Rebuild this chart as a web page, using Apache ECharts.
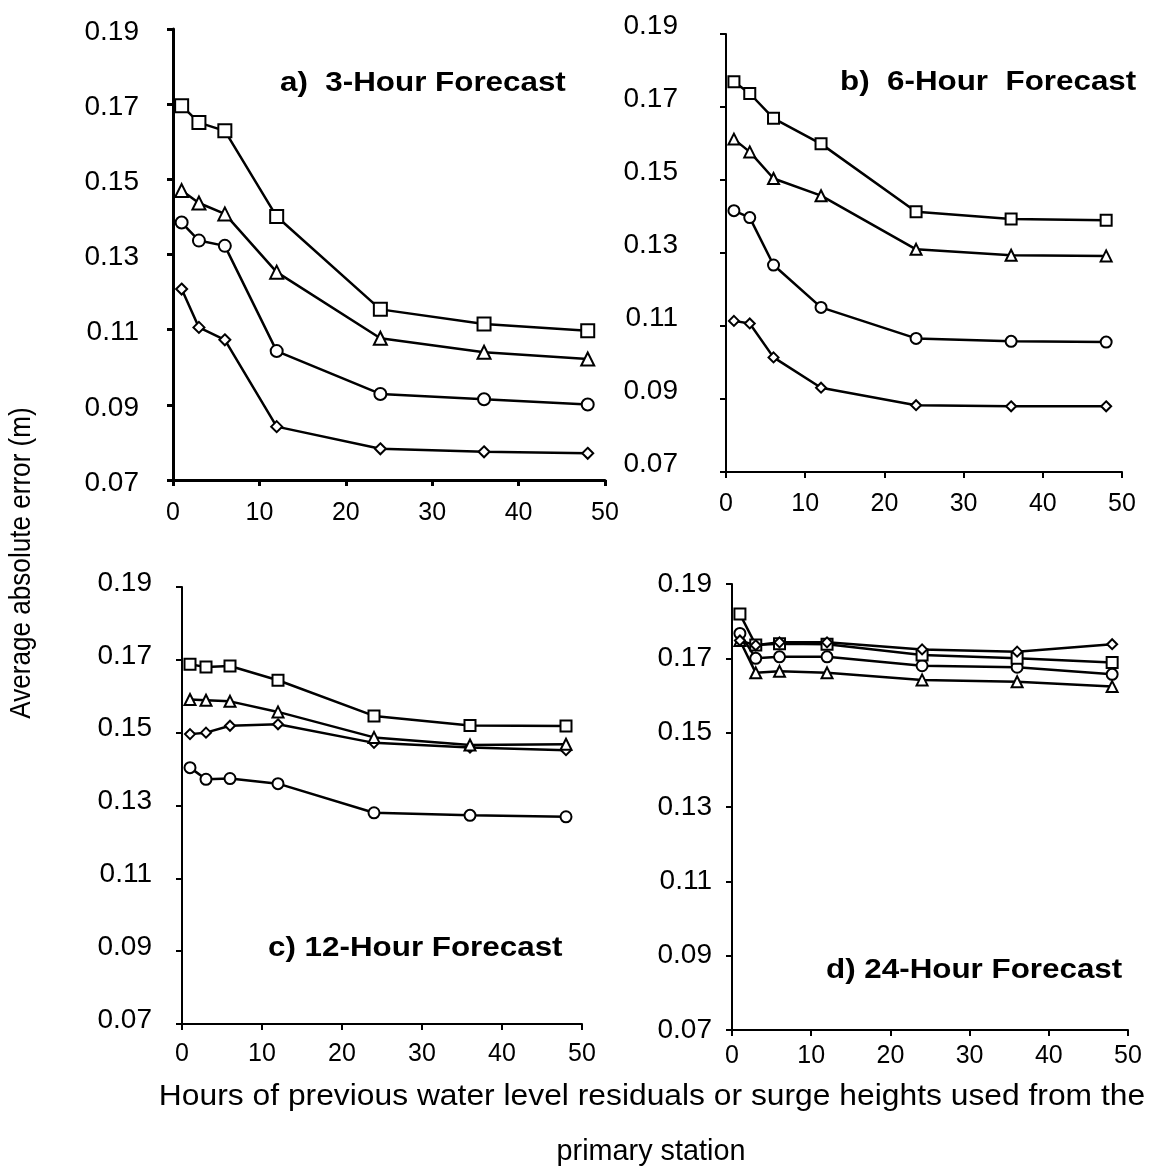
<!DOCTYPE html>
<html>
<head>
<meta charset="utf-8">
<script src="https://cdn.jsdelivr.net/npm/echarts@6/dist/echarts.min.js"></script>
<style>
  html, body { margin: 0; padding: 0; background: #fff; }
  #chart { width: 1164px; height: 1172px; }
</style>
</head>
<body>
<div id="chart"></div>
<script>
// Hours of previous residuals used (x values shared by every panel)
const hours = [1, 3, 6, 12, 24, 36, 48];

// a) 3-hour forecast
const a_square   = [0.1696, 0.1651, 0.1629, 0.1401, 0.1154, 0.1115, 0.1097];
const a_triangle = [0.1470, 0.1437, 0.1408, 0.1253, 0.1077, 0.1040, 0.1022];
const a_circle   = [0.1385, 0.1337, 0.1323, 0.1043, 0.0929, 0.0915, 0.0901];
const a_diamond  = [0.1208, 0.1106, 0.1073, 0.0842, 0.0783, 0.0775, 0.0771];

// b) 6-hour forecast
const b_square   = [0.1769, 0.1737, 0.1669, 0.1599, 0.1413, 0.1393, 0.1390];
const b_triangle = [0.1612, 0.1577, 0.1504, 0.1457, 0.1310, 0.1294, 0.1292];
const b_circle   = [0.1416, 0.1397, 0.1267, 0.1151, 0.1066, 0.1058, 0.1056];
const b_diamond  = [0.1114, 0.1107, 0.1014, 0.0931, 0.0883, 0.0880, 0.0880];

// c) 12-hour forecast
const c_square   = [0.1688, 0.1680, 0.1683, 0.1644, 0.1546, 0.1520, 0.1518];
const c_triangle = [0.1591, 0.1589, 0.1586, 0.1557, 0.1487, 0.1466, 0.1468];
const c_diamond  = [0.1496, 0.1500, 0.1519, 0.1523, 0.1472, 0.1459, 0.1452];
const c_circle   = [0.1404, 0.1372, 0.1374, 0.1360, 0.1280, 0.1273, 0.1269];

// d) 24-hour forecast
const d_square   = [0.1819, 0.1736, 0.1739, 0.1738, 0.1709, 0.1700, 0.1689];
const d_diamond  = [0.1748, 0.1735, 0.1743, 0.1743, 0.1724, 0.1718, 0.1738];
const d_circle   = [0.1767, 0.1700, 0.1704, 0.1704, 0.1680, 0.1676, 0.1657];
const d_triangle = [0.1748, 0.1661, 0.1665, 0.1661, 0.1642, 0.1637, 0.1624];

const xTicks = [0, 10, 20, 30, 40, 50];
const yTicks = [0.07, 0.09, 0.11, 0.13, 0.15, 0.17, 0.19];

const panelTitles = ['a)  3-Hour Forecast', 'b)  6-Hour  Forecast', 'c) 12-Hour Forecast', 'd) 24-Hour Forecast'];
const yAxisTitle = 'Average absolute error (m)';
const xAxisTitle1 = 'Hours of previous water level residuals or surge heights used from the';
const xAxisTitle2 = 'primary station';

const FONT = '"Liberation Sans", Arial, Helvetica, sans-serif';

// Plot areas of the four panels
const grids = [
  { left: 173, top: 29,  width: 432, height: 451 },
  { left: 726, top: 34,  width: 396, height: 438 },
  { left: 182, top: 587, width: 400, height: 437 },
  { left: 732, top: 584, width: 396, height: 446 }
];
const axisWidth = [3, 2, 2, 2];
const xLabelMargin = [21, 20, 18, 14];
const yLabelMargin = [34, 48, 30, 20];
// vertical nudge of the y tick labels relative to their ticks
const yLabelAlign = [
  { verticalAlign: 'top', lineHeight: 6 },
  { verticalAlign: 'bottom', lineHeight: 16 },
  { verticalAlign: 'bottom', lineHeight: 8 },
  { verticalAlign: 'middle' }
];

function pairs(ys) { return hours.map((h, i) => [h, ys[i]]); }

const xAxes = grids.map((g, i) => ({
  gridIndex: i, type: 'value', min: xTicks[0], max: xTicks[xTicks.length - 1], interval: 10,
  axisLine: { show: true, onZero: false, lineStyle: { color: '#000', width: axisWidth[i] } },
  axisTick: { show: true, inside: false, length: 6, lineStyle: { color: '#000', width: axisWidth[i] } },
  splitLine: { show: false },
  axisLabel: { color: '#000', fontFamily: FONT, fontSize: 25, margin: xLabelMargin[i] }
}));

const yAxes = grids.map((g, i) => ({
  gridIndex: i, type: 'value', min: yTicks[0], max: yTicks[yTicks.length - 1], interval: 0.02,
  axisLine: { show: true, onZero: false, lineStyle: { color: '#000', width: axisWidth[i] } },
  axisTick: { show: true, inside: false, length: 6, lineStyle: { color: '#000', width: axisWidth[i] } },
  splitLine: { show: false },
  axisLabel: Object.assign({
    color: '#000', fontFamily: FONT, fontSize: 28, margin: yLabelMargin[i],
    formatter: v => v.toFixed(2)
  }, yLabelAlign[i])
}));

const big = { rect: 13, triangle: 13, circle: 12, diamond: 11 };
const small = { rect: 11, triangle: 11, circle: 11, diamond: 10 };

function line(idx, symbol, ys, sizes) {
  return {
    type: 'line', xAxisIndex: idx, yAxisIndex: idx,
    data: pairs(ys),
    symbol: symbol, symbolSize: sizes[symbol],
    showAllSymbol: true,
    lineStyle: { color: '#000', width: 2.5 },
    itemStyle: { color: '#fff', borderColor: '#000', borderWidth: 2 },
    emphasis: { disabled: true },
    animation: false, z: 3
  };
}

const series = [
  line(0, 'diamond', a_diamond, big),
  line(0, 'circle', a_circle, big),
  line(0, 'triangle', a_triangle, big),
  line(0, 'rect', a_square, big),

  line(1, 'diamond', b_diamond, small),
  line(1, 'circle', b_circle, small),
  line(1, 'triangle', b_triangle, small),
  line(1, 'rect', b_square, small),

  line(2, 'circle', c_circle, small),
  line(2, 'diamond', c_diamond, small),
  line(2, 'triangle', c_triangle, small),
  line(2, 'rect', c_square, small),

  line(3, 'triangle', d_triangle, small),
  line(3, 'circle', d_circle, small),
  line(3, 'rect', d_square, small),
  line(3, 'diamond', d_diamond, small)
];

// Panel captions and shared axis titles
const titlePos = [[280, 83], [840, 82], [268, 948], [826, 970]];
const graphic = panelTitles.map((t, i) => ({
  type: 'text', x: titlePos[i][0], y: titlePos[i][1], scaleX: 1.12, z: 10,
  style: { text: t, fill: '#000', font: 'bold 28px ' + FONT, textAlign: 'left', textVerticalAlign: 'middle' }
}));
graphic.push({
  type: 'text', x: 22, y: 563, rotation: Math.PI / 2, scaleX: 0.9, z: 10,
  style: { text: yAxisTitle, fill: '#000', font: '29px ' + FONT, textAlign: 'center', textVerticalAlign: 'middle' }
});
graphic.push({
  type: 'text', x: 652, y: 1097, scaleX: 1.06, z: 10,
  style: { text: xAxisTitle1, fill: '#000', font: '30px ' + FONT, textAlign: 'center', textVerticalAlign: 'middle' }
});
graphic.push({
  type: 'text', x: 651, y: 1152, scaleX: 0.96, z: 10,
  style: { text: xAxisTitle2, fill: '#000', font: '30px ' + FONT, textAlign: 'center', textVerticalAlign: 'middle' }
});

const chart = echarts.init(document.getElementById('chart'), null, { renderer: 'canvas' });
chart.setOption({
  backgroundColor: '#fff',
  animation: false,
  grid: grids.map(g => Object.assign({ containLabel: false }, g)),
  xAxis: xAxes,
  yAxis: yAxes,
  series: series,
  graphic: graphic
});
</script>
</body>
</html>
